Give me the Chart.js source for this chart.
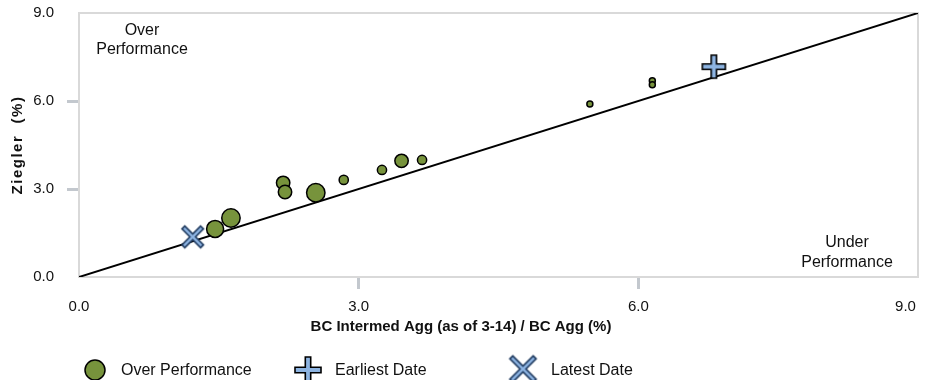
<!DOCTYPE html>
<html>
<head>
<meta charset="utf-8">
<title>Ziegler vs BC Intermed Agg</title>
<script src="https://cdn.jsdelivr.net/npm/chart.js@4/dist/chart.umd.min.js"></script>
<style>
  html, body { margin: 0; padding: 0; background: #fff; }
  #wrap { width: 930px; height: 380px; position: relative; }
</style>
</head>
<body>
<div id="wrap"><canvas id="chart"></canvas></div>
<script>
// --- Data ---
const perfX    = [1.46, 1.63, 2.19, 2.21, 2.54, 2.84, 3.25, 3.46, 3.68, 5.48, 6.15, 6.15];
const perfY    = [1.64, 2.01, 3.21, 2.90, 2.87, 3.31, 3.65, 3.96, 3.99, 5.90, 6.69, 6.55];
const perfSize = [8.5, 9.2, 6.7, 6.7, 9.2, 4.6, 4.6, 6.7, 4.6, 3, 3, 3];
const earliestPoint = [6.81, 7.17];
const latestPoint   = [1.22, 1.37];
const axisTicks = [0, 3, 6, 9];

const seriesNames = ['Over Performance', 'Earliest Date', 'Latest Date'];
const xTitle = 'BC Intermed Agg (as of 3-14) / BC Agg (%)';
const yTitle = 'Ziegler  (%)';

const GREEN = '#77933C';
const LIGHT_BLUE = '#8DB4E2';
const FONT = "'Liberation Sans', Arial, sans-serif";

// --- Marker images (outlined plus / cross) ---
function makeBarMarker(halfLen, halfThick, angle, stroke) {
    const size = Math.ceil((halfLen + 3) * 2);
    const c = document.createElement('canvas');
    c.width = size; c.height = size;
    const g = c.getContext('2d');
    g.translate(size / 2, size / 2);
    g.rotate(angle);
    const a = halfLen, t = halfThick;
    g.beginPath();
    g.moveTo(-t, -a); g.lineTo(t, -a); g.lineTo(t, -t); g.lineTo(a, -t);
    g.lineTo(a, t); g.lineTo(t, t); g.lineTo(t, a); g.lineTo(-t, a);
    g.lineTo(-t, t); g.lineTo(-a, t); g.lineTo(-a, -t); g.lineTo(-t, -t);
    g.closePath();
    g.fillStyle = LIGHT_BLUE;
    g.fill();
    g.lineWidth = 1.6;
    g.strokeStyle = stroke;
    g.stroke();
    return c;
}

const plusMarker   = makeBarMarker(11.5, 2.7, 0, '#000');
const crossMarker  = makeBarMarker(13.2, 2.0, Math.PI / 4, '#1F3A5F');
const plusLegend   = makeBarMarker(13, 2.7, 0, '#000');
const crossLegend  = makeBarMarker(16.5, 2.1, Math.PI / 4, '#1F3A5F');

// --- Frame, titles, quadrant labels and legend ---
const decorations = {
    id: 'decorations',
    beforeDatasetsDraw(chart) {
        const { ctx, chartArea: a } = chart;
        ctx.save();
        ctx.strokeStyle = '#D9D9D9';
        ctx.lineWidth = 2;
        ctx.strokeRect(a.left, a.top, a.right - a.left, a.bottom - a.top);
        ctx.restore();
    },
    afterDraw(chart) {
        const { ctx, chartArea: a } = chart;
        ctx.save();
        ctx.fillStyle = '#111';
        ctx.textBaseline = 'middle';

        // quadrant labels
        ctx.font = '16px ' + FONT;
        ctx.textAlign = 'center';
        ctx.fillText('Over', a.left + 63, a.top + 18);
        ctx.fillText('Performance', a.left + 63, a.top + 37);
        ctx.fillText('Under', a.right - 71, a.bottom - 34);
        ctx.fillText('Performance', a.right - 71, a.bottom - 14);

        // x axis title
        ctx.font = 'bold 15px ' + FONT;
        ctx.fillText(xTitle, 461, 327);

        // y axis title (letter spaced)
        ctx.save();
        ctx.translate(18, (a.top + a.bottom) / 2);
        ctx.rotate(-Math.PI / 2);
        ctx.letterSpacing = '1.5px';
        ctx.fillText(yTitle, 0, 0);
        ctx.restore();

        // legend
        const ly = 370;
        ctx.beginPath();
        ctx.arc(95, ly, 10, 0, Math.PI * 2);
        ctx.fillStyle = GREEN;
        ctx.fill();
        ctx.lineWidth = 1.5;
        ctx.strokeStyle = '#000';
        ctx.stroke();
        ctx.drawImage(plusLegend, 308 - plusLegend.width / 2, ly - plusLegend.height / 2);
        ctx.drawImage(crossLegend, 523 - crossLegend.width / 2, ly - 1 - crossLegend.height / 2);

        ctx.fillStyle = '#111';
        ctx.font = '16px ' + FONT;
        ctx.textAlign = 'left';
        ctx.fillText(seriesNames[0], 121, ly + 1);
        ctx.fillText(seriesNames[1], 335, ly + 1);
        ctx.fillText(seriesNames[2], 551, ly + 1);
        ctx.restore();
    }
};

const tickColor = (c) => (c.tick && (c.tick.value === axisTicks[0] || c.tick.value === axisTicks[axisTicks.length - 1]))
    ? 'rgba(0,0,0,0)' : '#C3C8CE';

new Chart(document.getElementById('chart'), {
    type: 'bubble',
    data: {
        datasets: [
            {
                type: 'scatter',
                label: seriesNames[2],
                data: [{ x: latestPoint[0], y: latestPoint[1] }],
                pointStyle: crossMarker,
                pointRadius: 11
            },
            {
                type: 'scatter',
                label: seriesNames[1],
                data: [{ x: earliestPoint[0], y: earliestPoint[1] }],
                pointStyle: plusMarker,
                pointRadius: 11
            },
            {
                label: seriesNames[0],
                data: perfX.map((x, i) => ({ x: x, y: perfY[i], r: perfSize[i] })),
                backgroundColor: GREEN,
                borderColor: '#000',
                borderWidth: 1.5
            },
            {
                type: 'scatter',
                label: 'diagonal',
                data: [
                    { x: axisTicks[0], y: axisTicks[0] },
                    { x: axisTicks[axisTicks.length - 1], y: axisTicks[axisTicks.length - 1] }
                ],
                showLine: true,
                borderColor: '#000',
                borderWidth: 2,
                pointRadius: 0
            }
        ]
    },
    options: {
        responsive: true,
        maintainAspectRatio: false,
        animation: false,
        layout: { padding: { left: 0, right: 11, top: 13, bottom: 0 } },
        plugins: {
            legend: { display: false },
            tooltip: { enabled: false }
        },
        scales: {
            x: {
                type: 'linear',
                min: axisTicks[0],
                max: axisTicks[axisTicks.length - 1],
                afterBuildTicks: (s) => { s.ticks = axisTicks.map(v => ({ value: v })); },
                afterFit: (s) => { s.height = 103; s.paddingLeft = 0; s.paddingRight = 0; },
                border: { display: false },
                grid: {
                    drawOnChartArea: false,
                    drawTicks: true,
                    tickLength: 12,
                    tickWidth: 3,
                    tickColor: tickColor
                },
                ticks: {
                    padding: 9,
                    color: '#111',
                    font: { family: FONT, size: 15 },
                    maxRotation: 0,
                    callback: (v) => v === axisTicks[axisTicks.length - 1] ? v.toFixed(1) + '      ' : v.toFixed(1)
                }
            },
            y: {
                type: 'linear',
                min: axisTicks[0],
                max: axisTicks[axisTicks.length - 1],
                afterBuildTicks: (s) => { s.ticks = axisTicks.map(v => ({ value: v })); },
                afterFit: (s) => { s.width = 79; s.paddingTop = 0; s.paddingBottom = 0; },
                border: { display: false },
                grid: {
                    drawOnChartArea: false,
                    drawTicks: true,
                    tickLength: 12,
                    tickWidth: 3,
                    tickColor: tickColor
                },
                ticks: {
                    padding: 13,
                    color: '#111',
                    font: { family: FONT, size: 15 },
                    callback: (v) => v.toFixed(1)
                }
            }
        }
    },
    plugins: [decorations]
});
</script>
</body>
</html>
